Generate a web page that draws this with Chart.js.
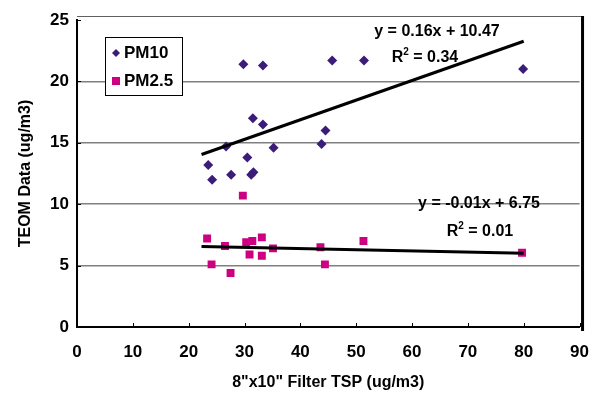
<!DOCTYPE html>
<html><head><meta charset="utf-8">
<script src="https://cdn.jsdelivr.net/npm/chart.js@4.4.0/dist/chart.umd.min.js"></script>
<style>html,body{margin:0;padding:0;background:#fff}#wrap{width:604px;height:396px}</style>
</head><body><div id="wrap"><canvas id="c" width="604" height="396"></canvas></div>
<script>
// ---- data ----
const pm10X = [23.5, 24.2, 26.7, 27.6, 29.8, 30.5, 31.2, 31.6, 31.5, 33.3, 33.3, 35.2, 43.8, 44.5, 45.7, 51.4, 79.9];
const pm10Y = [13.2, 12.0, 14.7, 12.4, 21.4, 13.8, 12.4, 12.6, 17.0, 21.3, 16.5, 14.6, 14.9, 16.0, 21.7, 21.7, 21.0];
const pm25X = [23.3, 24.1, 26.5, 27.5, 29.7, 30.3, 30.9, 31.4, 33.1, 33.1, 35.1, 43.6, 44.4, 51.3, 79.7];
const pm25Y = [7.2, 5.1, 6.6, 4.4, 10.7, 6.9, 5.9, 7.0, 7.3, 5.8, 6.4, 6.5, 5.1, 7.0, 6.05];
const trendPM10X = [22.3, 80];
const trendPM10Y = [14.05, 23.27];
const trendPM25X = [22.3, 80];
const trendPM25Y = [6.55, 6.0];
const xTicks = [0, 10, 20, 30, 40, 50, 60, 70, 80, 90];
const yTicks = [0, 5, 10, 15, 20, 25];
const seriesNames = ['PM10', 'PM2.5'];
const eqLabels = ['y = 0.16x + 10.47', 'R', '2', ' = 0.34', 'y = -0.01x + 6.75', 'R', '2', ' = 0.01'];
const xTitle = '8"x10" Filter TSP (ug/m3)';
const yTitle = 'TEOM Data (ug/m3)';

const FONT = '"Liberation Sans", Arial, sans-serif';
const C10 = '#3b1c78';
const C25 = '#cc0080';
const pts = (xs, ys) => xs.map((x, i) => ({x, y: ys[i]}));

const extras = {
  id: 'extras',
  afterDraw(chart) {
    const ctx = chart.ctx, a = chart.chartArea;
    const xs = chart.scales.x, ys = chart.scales.y;
    ctx.save();
    ctx.strokeStyle = '#606060'; ctx.lineWidth = 1;
    ctx.beginPath(); ctx.moveTo(a.left, a.top - 3.5); ctx.lineTo(a.right + 3, a.top - 3.5); ctx.stroke();
    ctx.strokeStyle = '#000'; ctx.lineWidth = 3;
    ctx.beginPath(); ctx.moveTo(a.right + 3, a.top - 4); ctx.lineTo(a.right + 3, a.bottom + 4); ctx.stroke();
    ctx.lineWidth = 1; ctx.strokeStyle = '#000';
    xTicks.forEach(v => { const p = Math.round(xs.getPixelForValue(v)) + 0.5; ctx.beginPath(); ctx.moveTo(p, a.bottom); ctx.lineTo(p, a.bottom - 4); ctx.stroke(); });
    yTicks.forEach(v => { const p = Math.round(ys.getPixelForValue(v)) + 0.5; ctx.beginPath(); ctx.moveTo(a.left, p); ctx.lineTo(a.left + 4, p); ctx.stroke(); });
    ctx.fillStyle = '#000';
    ctx.textBaseline = 'middle';
    const f = 'bold 16px ' + FONT, fs = 'bold 10px ' + FONT;
    function rsq(cx, cy, r, s, val) {
      ctx.font = f; const w1 = ctx.measureText(r).width; const w3 = ctx.measureText(val).width;
      ctx.font = fs; const w2 = ctx.measureText(s).width;
      let x = cx - (w1 + w2 + w3) / 2;
      ctx.textAlign = 'left';
      ctx.font = f; ctx.fillText(r, x, cy); x += w1;
      ctx.font = fs; ctx.fillText(s, x, cy - 6); x += w2;
      ctx.font = f; ctx.fillText(val, x, cy);
    }
    ctx.font = f; ctx.textAlign = 'center';
    ctx.fillText(eqLabels[0], 437, 32);
    rsq(425, 58, eqLabels[1], eqLabels[2], eqLabels[3]);
    ctx.font = f; ctx.textAlign = 'center';
    ctx.fillText(eqLabels[4], 479, 204);
    rsq(480, 232, eqLabels[5], eqLabels[6], eqLabels[7]);
    // legend
    ctx.fillStyle = '#fff'; ctx.fillRect(105, 37, 77, 58);
    ctx.strokeStyle = '#000'; ctx.lineWidth = 1; ctx.strokeRect(105.5, 37.5, 77, 58);
    ctx.fillStyle = C10;
    ctx.beginPath(); ctx.moveTo(116, 49); ctx.lineTo(120, 53); ctx.lineTo(116, 57); ctx.lineTo(112, 53); ctx.closePath(); ctx.fill();
    ctx.fillStyle = C25; ctx.fillRect(112, 77, 8, 8);
    ctx.fillStyle = '#000'; ctx.font = 'bold 17px ' + FONT; ctx.textAlign = 'left';
    ctx.fillText(seriesNames[0], 124, 53);
    ctx.fillText(seriesNames[1], 124, 81);
    ctx.restore();
  }
};

new Chart(document.getElementById('c'), {
  type: 'scatter',
  data: {
    datasets: [
      { label: 'PM10 trend', type: 'line', data: pts(trendPM10X, trendPM10Y), borderColor: '#000', borderWidth: 3, pointRadius: 0, fill: false, showLine: true },
      { label: 'PM2.5 trend', type: 'line', data: pts(trendPM25X, trendPM25Y), borderColor: '#000', borderWidth: 3, pointRadius: 0, fill: false, showLine: true },
      { label: seriesNames[0], data: pts(pm10X, pm10Y), pointStyle: 'rectRot', pointRadius: 5, backgroundColor: C10, borderColor: C10, borderWidth: 0 },
      { label: seriesNames[1], data: pts(pm25X, pm25Y), pointStyle: 'rect', pointRadius: 5.6, backgroundColor: C25, borderColor: C25, borderWidth: 0 }
    ]
  },
  options: {
    responsive: false, animation: false, devicePixelRatio: 1,
    layout: { padding: { top: 20, right: 23, left: 0, bottom: 0 } },
    plugins: { legend: { display: false }, tooltip: { enabled: false } },
    scales: {
      x: {
        type: 'linear', min: 0, max: 90,
        afterBuildTicks: s => { s.ticks = xTicks.map(v => ({value: v})); },
        afterFit: s => { s.height = 69; },
        grid: { display: false, drawTicks: false },
        border: { color: '#000', width: 2 },
        ticks: { color: '#000', font: { family: FONT, size: 17, weight: 'bold' }, padding: 15, maxRotation: 0 },
        title: { display: true, text: xTitle, color: '#000', font: { family: FONT, size: 16, weight: 'bold' }, padding: { top: 4 } }
      },
      y: {
        type: 'linear', min: 0, max: 25,
        afterBuildTicks: s => { s.ticks = yTicks.map(v => ({value: v})); },
        afterFit: s => { s.width = 77; },
        grid: { color: c => (c.tick && (c.tick.value === 0 || c.tick.value === 25)) ? 'rgba(0,0,0,0)' : '#808080', lineWidth: 1.5, drawTicks: false },
        border: { color: '#000', width: 2 },
        ticks: { color: '#000', font: { family: FONT, size: 17, weight: 'bold' }, padding: 8 },
        title: { display: true, text: yTitle, color: '#000', font: { family: FONT, size: 16, weight: 'bold' }, padding: { top: 16 } }
      }
    }
  },
  plugins: [extras]
});
</script></body></html>
